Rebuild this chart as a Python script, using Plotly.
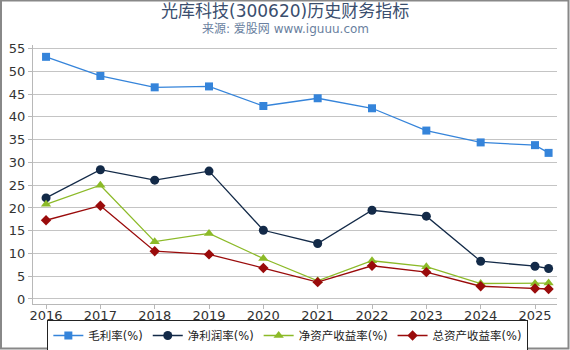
import plotly.graph_objects as go

years = [2016, 2017, 2018, 2019, 2020, 2021, 2022, 2023, 2024, 2025, 2025.25]
tick_vals = [2016, 2017, 2018, 2019, 2020, 2021, 2022, 2023, 2024, 2025]
tick_text = ["2016", "2017", "2018", "2019", "2020", "2021", "2022", "2023", "2024", "2025"]

gross_margin = [53.2, 49.0, 46.5, 46.7, 42.4, 44.1, 41.9, 37.0, 34.4, 33.8, 32.1]
net_margin = [22.2, 28.4, 26.1, 28.1, 15.1, 12.2, 19.5, 18.2, 8.3, 7.2, 6.7]
roe = [20.8, 25.0, 12.6, 14.4, 8.9, 4.0, 8.4, 7.1, 3.4, 3.4, 3.5]
roa = [17.3, 20.5, 10.5, 9.8, 6.8, 3.7, 7.3, 5.9, 2.8, 2.3, 2.2]

series = [
    ("毛利率(%)", gross_margin, "#3584da", "square", 8),
    ("净利润率(%)", net_margin, "#132a48", "circle", 9),
    ("净资产收益率(%)", roe, "#8cba28", "triangle-up", 9),
    ("总资产收益率(%)", roa, "#9a0b0b", "diamond", 8),
]

W, H = 570, 350
ml, mr, mt, mb = 33, 13, 45, 46
pw = W - ml - mr
ph = H - mt - mb


def py(p):
    return (H - mb - p) / ph


def px(p):
    return (p - ml) / pw


fig = go.Figure()
for name, vals, color, sym, size in series:
    fig.add_trace(go.Scatter(
        x=years, y=vals, name=name, mode="lines+markers",
        line=dict(color=color, width=1.3),
        marker=dict(symbol=sym, size=size, color=color),
    ))

fig.update_layout(
    width=W, height=H,
    margin=dict(l=ml, r=mr, t=mt, b=mb, autoexpand=False),
    paper_bgcolor="white", plot_bgcolor="white",
    font=dict(family="DejaVu Sans, Noto Sans CJK SC", color="#333333", size=13),
    xaxis=dict(
        range=[2015.76, 2025.405], tickvals=tick_vals, ticktext=tick_text,
        showgrid=False, showline=True, linecolor="#b8b8b8", linewidth=1,
        ticks="outside", ticklen=4, tickcolor="#b8b8b8", zeroline=False,
        tickfont=dict(size=13, color="#333333"), ticklabelstandoff=-5,
    ),
    yaxis=dict(
        range=[-1.1, 55.8], tickvals=list(range(0, 56, 5)),
        showgrid=True, gridcolor="#c4c4c4", gridwidth=1,
        showline=True, linecolor="#b8b8b8", linewidth=1,
        ticks="outside", ticklen=4, tickcolor="#b8b8b8", zeroline=False,
        tickfont=dict(size=13, color="#333333"),
    ),
    legend=dict(
        orientation="h", xref="container", x=0.505, xanchor="center",
        yref="container", y=(H - 320) / H, yanchor="top",
        bordercolor="#222222", borderwidth=1, bgcolor="white",
        font=dict(size=11.5, color="#222222"),
        itemwidth=30, tracegroupgap=0,
    ),
    showlegend=True,
    annotations=[
        dict(text="光库科技(300620)历史财务指标", xref="paper", yref="paper",
             x=px(285), y=py(11), xanchor="center", yanchor="middle", showarrow=False,
             font=dict(size=17, color="#3a4e6e", family="DejaVu Sans, Noto Sans CJK SC")),
        dict(text="来源: 爱股网 www.iguuu.com", xref="paper", yref="paper",
             x=px(285), y=py(29), xanchor="center", yanchor="middle", showarrow=False,
             font=dict(size=12, color="#6a7fa0", family="DejaVu Sans, Noto Sans CJK SC")),
    ],
)

fig.add_shape(type="rect", xref="paper", yref="paper",
              x0=px(1), x1=px(W - 1.5), y0=py(H - 1.5), y1=py(0.5),
              line=dict(color="#888888", width=2), layer="above")

fig.write_html("out.html")
